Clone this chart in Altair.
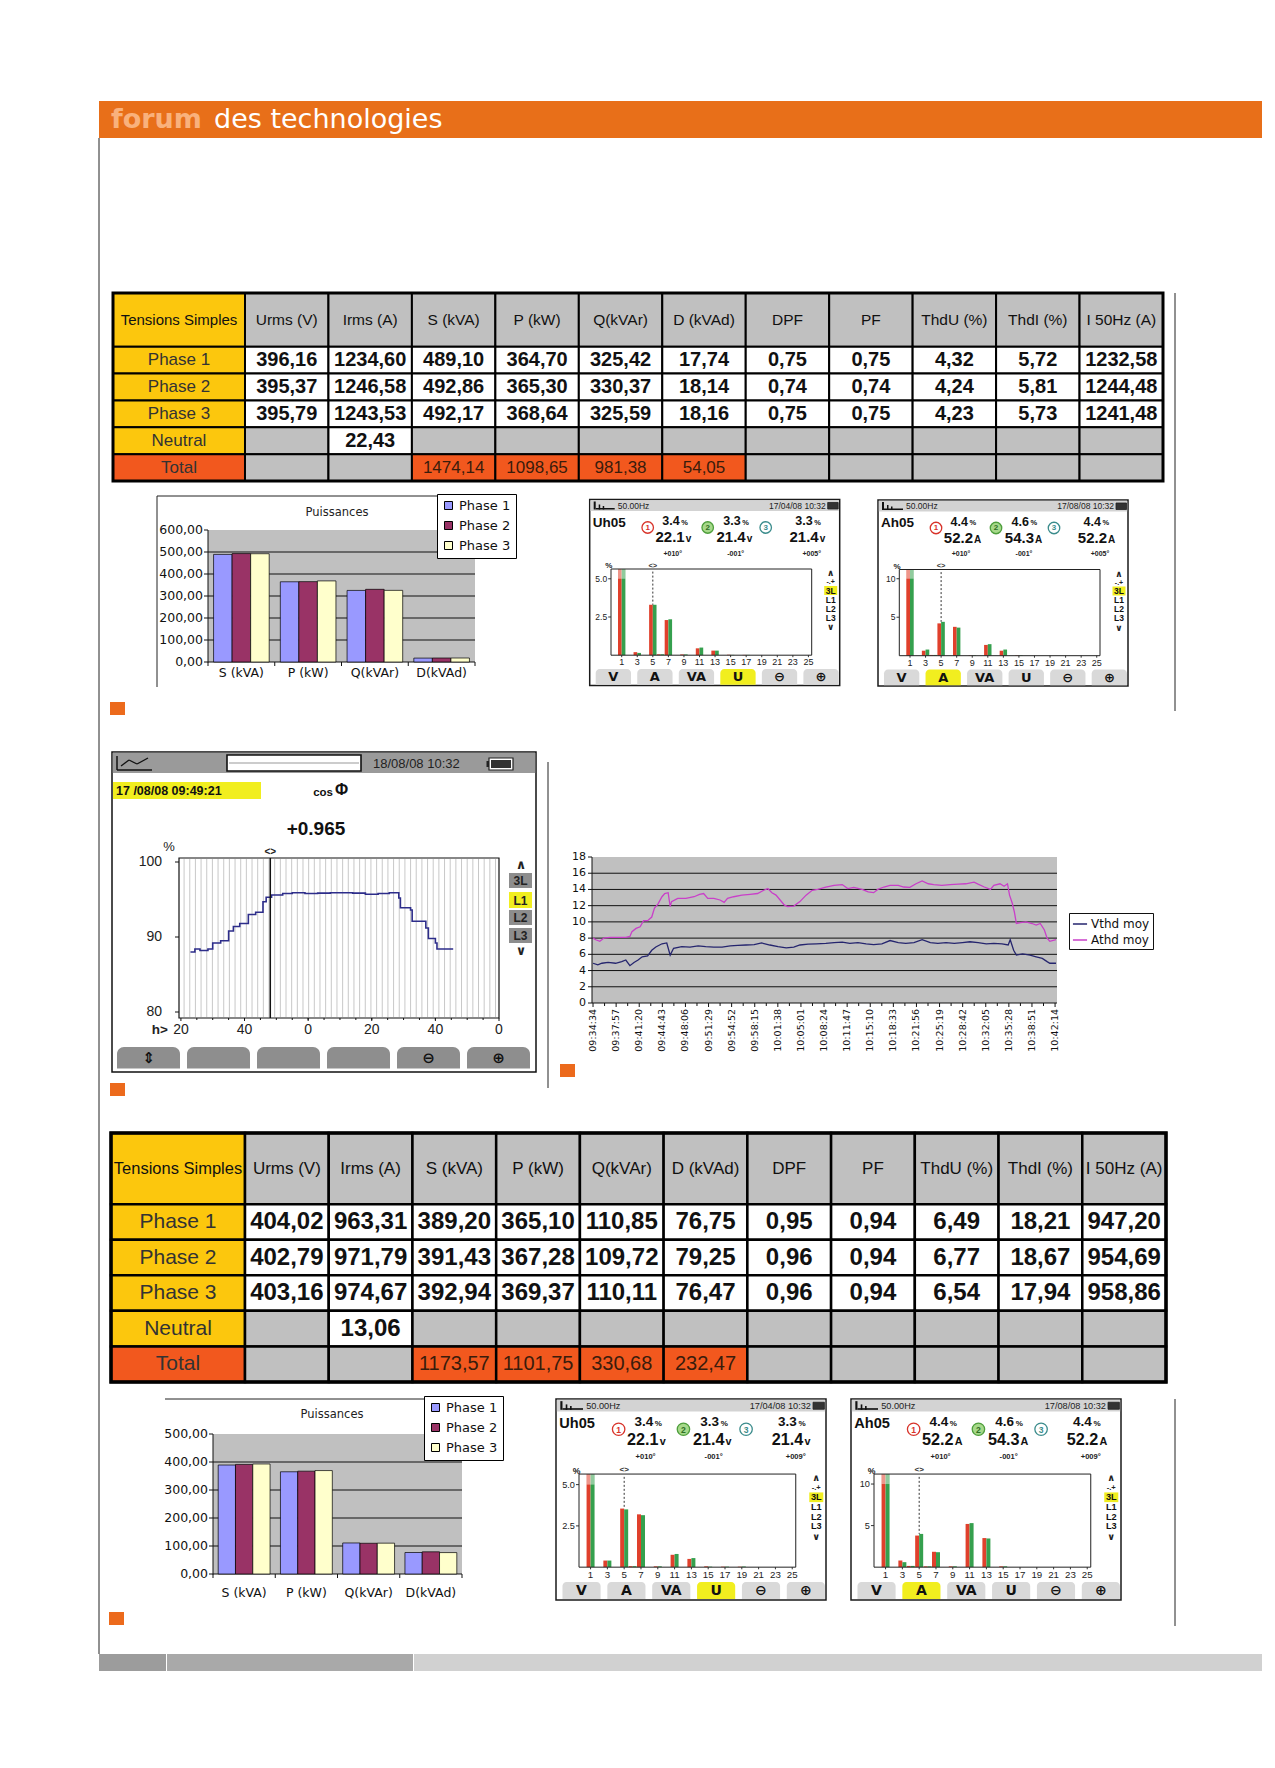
import altair as alt
import pandas as pd
import numpy as np

W, H = 1259, 1752


def X(v):
    return round(v - 8, 2)


def Y(v):
    return round(v - 8, 2)


FN = "Liberation Sans Narrow, Arial Narrow, Liberation Sans, Arial, sans-serif"
FA = "Liberation Sans, Arial, sans-serif"
FD = "DejaVu Sans, Verdana, sans-serif"

# ---------------------------------------------------------------- DATA
HEADER_WORD1 = "forum"
HEADER_WORD2 = "des technologies"

TABLE_CORNER = "Tensions Simples"
TABLE_COLS = ["Urms (V)", "Irms (A)", "S (kVA)", "P (kW)", "Q(kVAr)", "D (kVAd)",
              "DPF", "PF", "ThdU (%)", "ThdI (%)", "I 50Hz (A)"]
TABLE_ROWS = ["Phase 1", "Phase 2", "Phase 3", "Neutral", "Total"]

T1_PHASE1 = [396.16, 1234.60, 489.10, 364.70, 325.42, 17.74, 0.75, 0.75, 4.32, 5.72, 1232.58]
T1_PHASE2 = [395.37, 1246.58, 492.86, 365.30, 330.37, 18.14, 0.74, 0.74, 4.24, 5.81, 1244.48]
T1_PHASE3 = [395.79, 1243.53, 492.17, 368.64, 325.59, 18.16, 0.75, 0.75, 4.23, 5.73, 1241.48]
T1_NEUTRAL_IRMS = 22.43
T1_TOTAL_SPQD = [1474.14, 1098.65, 981.38, 54.05]

T2_PHASE1 = [404.02, 963.31, 389.20, 365.10, 110.85, 76.75, 0.95, 0.94, 6.49, 18.21, 947.20]
T2_PHASE2 = [402.79, 971.79, 391.43, 367.28, 109.72, 79.25, 0.96, 0.94, 6.77, 18.67, 954.69]
T2_PHASE3 = [403.16, 974.67, 392.94, 369.37, 110.11, 76.47, 0.96, 0.94, 6.54, 17.94, 958.86]
T2_NEUTRAL_IRMS = 13.06
T2_TOTAL_SPQD = [1173.57, 1101.75, 330.68, 232.47]

POWER_TITLE = "Puissances"
POWER_CATS = ["S (kVA)", "P (kW)", "Q(kVAr)", "D(kVAd)"]
PHASES = ["Phase 1", "Phase 2", "Phase 3"]

HARMONICS = list(range(1, 26))
HARM_PHASES = ["L1", "L3"]
#            h1   2    3    4    5    6    7    8   9    10  11   12  13   14  15   16  17   18  19   20 21 22 23 24 25
U1_RED   = [100, 0, 0.20, 0, 3.30, 0.06, 2.30, 0, 0.05, 0, 0.45, 0, 0.30, 0, 0.03, 0, 0.02, 0, 0, 0, 0, 0, 0, 0, 0]
U1_GREEN = [100, 0, 0.15, 0, 3.30, 0.06, 2.35, 0, 0.05, 0, 0.50, 0, 0.30, 0, 0.02, 0, 0.02, 0, 0, 0, 0, 0, 0, 0, 0]
A1_RED   = [100, 0, 0.65, 0.10, 4.20, 0, 3.75, 0, 0.05, 0, 1.40, 0, 0.65, 0, 0.05, 0, 0, 0, 0, 0, 0, 0, 0, 0, 0]
A1_GREEN = [100, 0, 0.80, 0.10, 4.40, 0, 3.65, 0, 0.05, 0, 1.50, 0, 0.80, 0, 0.05, 0, 0, 0, 0, 0, 0, 0, 0, 0, 0]
U2_RED   = [100, 0, 0.40, 0, 3.55, 0.06, 3.20, 0, 0.05, 0, 0.75, 0, 0.50, 0, 0.05, 0, 0.03, 0, 0.03, 0, 0, 0, 0, 0, 0]
U2_GREEN = [100, 0, 0.40, 0, 3.50, 0.06, 3.15, 0, 0.05, 0, 0.80, 0, 0.55, 0, 0.03, 0, 0.03, 0, 0.04, 0, 0, 0, 0, 0, 0]
A2_RED   = [100, 0, 0.80, 0.15, 3.80, 0.10, 1.85, 0, 0.10, 0, 5.20, 0, 3.50, 0, 0.10, 0, 0, 0, 0, 0, 0, 0, 0, 0, 0]
A2_GREEN = [100, 0, 0.60, 0.15, 4.00, 0.10, 1.80, 0, 0.10, 0, 5.30, 0, 3.45, 0, 0.10, 0, 0, 0, 0, 0, 0, 0, 0, 0, 0]
HARM_LABELS = list(range(1, 26, 2))

SCREEN_BUTTONS = ["V", "A", "VA", "U", "⊖", "⊕"]
SCREEN_SIDE = ["3L", "L1", "L2", "L3"]
SCREENS = [
    dict(lab="Uh05", date="17/04/08 10:32", pct=["3.4", "3.3", "3.3"], val=["22.1", "21.4", "21.4"],
         unit="v", ang=["+010°", "-001°", "+005°"], active=3, red=U1_RED, green=U1_GREEN,
         ymax=5.64, ticks=[2.5, 5.0], ticklab=["2.5", "5.0"]),
    dict(lab="Ah05", date="17/08/08 10:32", pct=["4.4", "4.6", "4.4"], val=["52.2", "54.3", "52.2"],
         unit="A", ang=["+010°", "-001°", "+005°"], active=1, red=A1_RED, green=A1_GREEN,
         ymax=11.2, ticks=[5, 10], ticklab=["5", "10"]),
    dict(lab="Uh05", date="17/04/08 10:32", pct=["3.4", "3.3", "3.3"], val=["22.1", "21.4", "21.4"],
         unit="v", ang=["+010°", "-001°", "+009°"], active=3, red=U2_RED, green=U2_GREEN,
         ymax=5.64, ticks=[2.5, 5.0], ticklab=["2.5", "5.0"]),
    dict(lab="Ah05", date="17/08/08 10:32", pct=["4.4", "4.6", "4.4"], val=["52.2", "54.3", "52.2"],
         unit="A", ang=["+010°", "-001°", "+009°"], active=1, red=A2_RED, green=A2_GREEN,
         ymax=11.2, ticks=[5, 10], ticklab=["5", "10"]),
]

COS_TOPDATE = "18/08/08 10:32"
COS_CURSOR_LABEL = "17 /08/08 09:49:21"
COS_NAME = ["cos", "Φ"]
COS_VALUE = "+0.965"
COS_CURSOR_T = 48.1          # minutes after 09:00
COS_SIDE = ["3L", "L1", "L2", "L3"]
COS_BUTTONS = ["⇕", "", " ", "  ", "⊖", "⊕"]
COS_XTICKS = [20, 40, 60, 80, 100, 120]
COS_YTICKS = [80, 90, 100]
COS_T = [23.0, 24.4, 26.0, 28.5, 30.0, 32.5, 35.0, 36.5, 38.5, 41.2,
         43.5, 45.8, 46.8, 48.5, 52.0, 55.0, 59.0, 63.0, 67.0, 74.0,
         78.0, 82.0, 85.5, 88.5, 89.0, 92.2, 92.7, 97.0, 97.8, 100.0,
         100.5, 105.6]
COS_V = [88.0, 88.4, 88.2, 88.4, 89.2, 89.5, 90.8, 91.4, 91.8, 93.0,
         93.3, 94.7, 95.3, 95.6, 95.8, 95.9, 95.8, 95.85, 95.9, 95.85,
         95.7, 95.8, 95.9, 95.2, 93.9, 93.6, 92.1, 91.2, 89.8, 89.2,
         88.4, 88.4]

THD_SERIES = ["Vthd moy", "Athd moy"]
# minutes after 09:34:34
ATHD_T = [0.0, 0.4, 1.0, 1.6, 2.5, 3.6, 4.8, 5.4, 5.7, 6.3,
          6.9, 7.4, 8.0, 8.6, 9.0, 9.5, 10.1, 10.5, 11.0, 11.3,
          11.5, 12.4, 13.6, 14.8, 15.6, 16.2, 16.8, 17.7, 18.6, 19.2,
          19.7, 20.6, 21.8, 23.0, 24.1, 25.0, 25.6, 26.2, 26.8, 27.4,
          28.0, 28.5, 29.4, 30.3, 31.2, 32.1, 32.9, 34.1, 35.3, 36.5,
          37.3, 38.2, 39.4, 40.3, 41.1, 41.7, 42.6, 43.5, 44.7, 45.5,
          46.4, 47.3, 48.2, 49.1, 49.9, 51.1, 52.3, 53.5, 54.6, 55.8,
          56.4, 57.3, 58.2, 58.7, 59.6, 60.2, 60.7, 61.0, 61.4, 61.7,
          62.0, 62.6, 63.4, 64.3, 64.9, 65.5, 66.1, 66.5, 66.9, 67.8]
ATHD_V = [8.0, 7.8, 7.6, 8.0, 8.1, 8.1, 8.1, 8.2, 8.8, 9.2,
          9.4, 10.15, 10.15, 10.6, 11.7, 12.2, 13.1, 13.5, 13.6, 11.9,
          12.5, 12.9, 12.9, 13.1, 13.4, 13.5, 12.9, 12.9, 12.7, 12.4,
          12.9, 13.1, 13.3, 13.4, 13.5, 13.9, 14.1, 13.6, 13.3, 12.7,
          12.1, 11.9, 11.95, 12.5, 13.3, 13.9, 14.0, 14.3, 14.5, 14.6,
          14.1, 14.25, 14.0, 13.7, 13.6, 14.0, 14.3, 14.5, 14.5, 14.3,
          14.25, 14.7, 15.05, 14.7, 14.6, 14.5, 14.6, 14.65, 14.7, 14.9,
          14.65, 14.3, 14.0, 14.5, 14.7, 14.4, 14.7, 13.3, 12.3, 11.25,
          9.8, 9.9, 10.0, 9.8, 9.6, 9.8, 9.0, 8.0, 7.6, 7.8]
VTHD_T = [0.0, 0.7, 1.3, 2.2, 3.3, 4.2, 4.8, 5.4, 6.0, 6.6,
          7.2, 8.0, 8.6, 9.2, 10.1, 10.8, 11.3, 11.8, 13.0, 14.2,
          15.4, 16.5, 17.7, 18.9, 20.1, 21.2, 22.4, 23.6, 24.7, 25.9,
          27.1, 28.3, 29.4, 30.3, 31.5, 32.7, 34.1, 35.3, 36.5, 37.6,
          38.8, 40.0, 41.1, 42.3, 43.5, 44.7, 45.8, 47.0, 48.2, 49.4,
          50.5, 51.7, 52.9, 54.1, 55.2, 56.4, 57.6, 58.7, 59.9, 60.8,
          61.1, 61.6, 62.0, 62.9, 64.0, 64.9, 65.8, 66.5, 66.9, 67.8]
VTHD_V = [4.9, 4.7, 4.9, 5.0, 4.9, 5.1, 5.3, 4.6, 5.0, 5.3,
          5.7, 5.8, 6.5, 6.9, 7.3, 7.4, 5.9, 6.75, 6.95, 6.9,
          7.05, 6.95, 6.9, 6.9, 7.05, 7.1, 7.15, 7.2, 7.4, 7.15,
          6.95, 6.8, 6.9, 7.15, 7.25, 7.3, 7.35, 7.45, 7.5, 7.35,
          7.45, 7.3, 7.2, 7.3, 7.7, 7.45, 7.35, 7.45, 7.8, 7.45,
          7.35, 7.45, 7.35, 7.45, 7.55, 7.45, 7.3, 7.35, 7.3, 7.15,
          7.8, 6.5, 5.9, 6.05, 5.9, 5.7, 5.5, 5.1, 4.9, 4.9]
THD_START_S = 9 * 3600 + 34 * 60 + 34   # 09:34:34
THD_TICK_STEP_S = 203                   # seconds between category labels
THD_TICK_COUNT = 21
THD_YTICKS = list(range(0, 19, 2))

# ---------------------------------------------------------------- STYLE
YEL, ORG, GRAY, WHITE = "#fcc70d", "#f2581e", "#c0c0c0", "#ffffff"
BAND = "#e86f19"
HRED, HGREEN = "#e0402c", "#35a04e"
DEV_YEL = "#f1ee1f"

RECTS_U, RECTS_O, RULES, TEXTS, POINTS = [], [], [], [], []


def rect(lst, x1, y1, x2, y2, fill="none", stroke="none", sw=0.0):
    lst.append(dict(x=X(x1), x2=X(x2), y=Y(y1), y2=Y(y2), fill=fill, stroke=stroke, sw=sw))


def rule(x1, y1, x2, y2, color="#111111", sw=1.0):
    RULES.append(dict(x=X(x1), x2=X(x2), y=Y(y1), y2=Y(y2), color=color, sw=sw))


def txt(x, y, s, size, color="#111111", font=FA, weight="normal", align="left", baseline="middle"):
    TEXTS.append(dict(x=X(x), y=Y(y), s=s, size=size, color=color, font=font,
                      weight=weight, align=align, baseline=baseline))


def circ(x, y, d, fill, stroke, sw=1.2):
    POINTS.append(dict(x=X(x), y=Y(y), size=d * d, fill=fill, stroke=stroke, sw=sw))


def fmt(v):
    return f"{v:.2f}".replace(".", ",")


def tick_labels(values, labels, xenc, yenc, font, size, color="#111111", align="center",
                baseline="middle", angle=0, weight="normal"):
    df = pd.DataFrame({"v": values, "lab": labels})
    return alt.Chart(df).mark_text(font=font, fontSize=size, color=color, align=align,
                                   baseline=baseline, angle=angle, fontWeight=weight).encode(
        x=xenc, y=yenc, text="lab:N")


def tick_marks(values, xenc=None, yenc=None, x=None, x2=None, y=None, y2=None, color="#111111", sw=1.0):
    df = pd.DataFrame({"v": values})
    enc = {}
    if xenc is not None:
        enc["x"] = xenc
        enc["y"] = alt.value(y)
        enc["y2"] = alt.value(y2)
    else:
        enc["y"] = yenc
        enc["x"] = alt.value(x)
        enc["x2"] = alt.value(x2)
    return alt.Chart(df).mark_rule(color=color, strokeWidth=sw).encode(**enc)


# ---------------------------------------------------------------- PAGE
rect(RECTS_U, 99, 101, 1262, 138, BAND)
txt(111, 128, HEADER_WORD1, 27, "#f9b17c", FD, "bold", baseline="alphabetic")
txt(214, 128, HEADER_WORD2, 27, "#ffffff", FD, baseline="alphabetic")
rule(99, 138, 99, 1654, "#222222", 1)
rule(1175, 293, 1175, 711, "#222222", 1)
rule(1175, 1399, 1175, 1626, "#222222", 1)
rule(548, 762, 548, 1088, "#222222", 1)
for (a, b) in [(110, 702), (110, 1083), (560, 1064), (109, 1612)]:
    rect(RECTS_U, a, b, a + 15, b + 13, "#ec6a1c")
rect(RECTS_U, 99, 1654, 166, 1671, "#9c9c9c")
rect(RECTS_U, 167, 1654, 413, 1671, "#a9a9a9")
rect(RECTS_U, 414, 1654, 1262, 1671, "#d1d1d1")


# ---------------------------------------------------------------- TABLES
def table_groups(x0, xL, xR, yT, yB, phases, neutral, totals, fs, bw):
    ys = alt.Scale(domain=[0, 7], range=[Y(yT), Y(yB)], nice=False, zero=False)
    xl = alt.Scale(domain=[TABLE_CORNER], range=[X(x0), X(xL)], paddingInner=0, paddingOuter=0)
    xc = alt.Scale(domain=TABLE_COLS, range=[X(xL), X(xR)], paddingInner=0, paddingOuter=0)
    L = [dict(c=TABLE_CORNER, r0=0, r1=2, rm=1, t=TABLE_CORNER, f=YEL, fs=fs["corner"], tc="#111111")]
    for i, r in enumerate(TABLE_ROWS):
        L.append(dict(c=TABLE_CORNER, r0=2 + i, r1=3 + i, rm=2.5 + i, t=r,
                      f=(ORG if r == "Total" else YEL), fs=fs["label"], tc="#333333"))
    C = []
    for c in TABLE_COLS:
        C.append(dict(c=c, r0=0, r1=2, rm=1, t=c, f=GRAY, fs=fs["head"], tc="#111111", b=0))
    for i, r in enumerate(TABLE_ROWS):
        for j, c in enumerate(TABLE_COLS):
            if i < 3:
                t, f, b = fmt(phases[i][j]), WHITE, 1
            elif r == "Neutral":
                t = fmt(neutral) if j == 1 else ""
                f, b = (WHITE if j == 1 else GRAY), 1
            else:
                t = fmt(totals[j - 2]) if 2 <= j <= 5 else ""
                f, b = (ORG if 2 <= j <= 5 else GRAY), 0
            C.append(dict(c=c, r0=2 + i, r1=3 + i, rm=2.5 + i, t=t, f=f,
                          fs=(fs["num"] if b else fs["tot"]),
                          tc=("#111111" if b else "#3a1c0c"), b=b))
    dL, dC = pd.DataFrame(L), pd.DataFrame(C)

    def cells(df, xs):
        return alt.Chart(df).mark_rect(stroke="black", strokeWidth=bw).encode(
            x=alt.X("c:N", scale=xs, axis=None),
            y=alt.Y("r0:Q", scale=ys, axis=None), y2="r1:Q",
            fill=alt.Fill("f:N", scale=None))

    def labels(df, xs, weight):
        df = df[df.t != ""]
        return alt.Chart(df).mark_text(font=FN, fontWeight=weight).encode(
            x=alt.X("c:N", scale=xs, axis=None),
            y=alt.Y("rm:Q", scale=ys, axis=None),
            text="t:N", size=alt.Size("fs:Q", scale=None),
            color=alt.Color("tc:N", scale=None))

    g1 = alt.layer(cells(dL, xl), labels(dL, xl, "normal"))
    g2 = alt.layer(cells(dC, xc), labels(dC[dC.b == 0], xc, "normal"), labels(dC[dC.b == 1], xc, "bold"))
    rect(RECTS_O, x0, yT, xR, yB, "none", "black", bw + 1)
    return [g1, g2]


# ---------------------------------------------------------------- POWER BAR CHARTS
def bar_group(phase_rows, x0, x1, yT, yB, ymax, lx, ly, ylab):
    rect(RECTS_U, x0, yT, x1, yB, "#c0c0c0")
    rule(x0, yT, x0, yB + 0.5, "#111111", 1)
    rule(x0, yB, x1, yB, "#111111", 1)
    for k in range(5):
        xx = x0 + k * (x1 - x0) / 4
        rule(xx, yB, xx, yB + 4, "#111111", 1)
    rows = []
    for p, vals in zip(PHASES, phase_rows):
        for c, v in zip(POWER_CATS, vals[2:6]):
            rows.append(dict(cat=c, ph=p, v=v))
    df = pd.DataFrame(rows)
    xs = alt.Scale(domain=POWER_CATS, range=[X(x0), X(x1)], paddingInner=0, paddingOuter=0)
    ysc = alt.Scale(domain=[0, ymax], range=[Y(yB), Y(yT)], nice=False, zero=True)
    yticks = list(range(0, ymax + 1, 100))
    grid = tick_marks(list(range(100, ymax, 100)), yenc=alt.Y("v:Q", scale=ysc, axis=None),
                      x=X(x0), x2=X(x1), color="#111111", sw=1)
    ticks = tick_marks(yticks, yenc=alt.Y("v:Q", scale=ysc, axis=None), x=X(x0 - 4), x2=X(x0))
    ylabels = tick_labels(yticks, [fmt(v) for v in yticks], alt.value(X(x0 - 5)),
                          alt.Y("v:Q", scale=ysc, axis=None), FD, 12.5, align="right")
    xlabels = tick_labels(POWER_CATS, POWER_CATS, alt.X("v:N", scale=xs, axis=None),
                          alt.value(Y(ylab)), FD, 12.5)
    bars = alt.Chart(df).mark_bar(stroke="black", strokeWidth=0.7).encode(
        x=alt.X("cat:N", scale=xs, sort=POWER_CATS, axis=None),
        xOffset=alt.XOffset("ph:N", scale=alt.Scale(domain=PHASES, paddingInner=0, paddingOuter=0.3)),
        y=alt.Y("v:Q", scale=ysc, axis=None),
        color=alt.Color("ph:N", scale=alt.Scale(domain=PHASES, range=["#9999ff", "#993366", "#ffffcc"]),
                        legend=alt.Legend(orient="none", legendX=X(lx), legendY=Y(ly), title=None,
                                          fillColor="white", strokeColor="black", padding=5,
                                          symbolType="square", symbolSize=64,
                                          symbolStrokeColor="black", symbolStrokeWidth=1,
                                          labelFont=FD, labelFontSize=13, labelColor="#111111",
                                          rowPadding=6, labelOffset=4)))
    return alt.layer(grid, bars, ticks, ylabels, xlabels)


# chart frames and titles
rule(157, 496, 437, 496, "#222222", 1)
rule(157, 496, 157, 687, "#222222", 1)
txt(337, 513, POWER_TITLE, 11.5, "#222222", FD, align="center")
rule(165, 1399, 424, 1399, "#222222", 1)
txt(332, 1415, POWER_TITLE, 11.5, "#222222", FD, align="center")


# ---------------------------------------------------------------- BUTTONS
def buttons_group(labels, active, xa, xb, ya, yb, pad, fill, afill, fs, radius):
    ids = [f"b{i}" for i in range(len(labels))]
    df = pd.DataFrame(dict(id=ids, t=labels, fc=[afill if i == active else fill for i in range(len(labels))]))
    xs = alt.Scale(domain=ids, range=[X(xa), X(xb)], paddingInner=pad, paddingOuter=0)
    r = alt.Chart(df).mark_rect(cornerRadiusTopLeft=radius, cornerRadiusTopRight=radius).encode(
        x=alt.X("id:N", scale=xs, axis=None), y=alt.value(Y(ya)), y2=alt.value(Y(yb)),
        fill=alt.Fill("fc:N", scale=None))
    t = alt.Chart(df[df.t.str.strip() != ""]).mark_text(font=FD, fontWeight="bold", fontSize=fs,
                                                        color="#111111").encode(
        x=alt.X("id:N", scale=xs, axis=None), y=alt.value(Y((ya + yb) / 2 + 0.5)), text="t:N")
    return alt.layer(r, t)


# ---------------------------------------------------------------- HARMONIC SCREENS
def hscreen(cfg, x0, y0, s):
    R = lambda r: x0 + r * s
    Q = lambda r: y0 + r * s
    rect(RECTS_U, R(0), Q(0), R(250), Q(186), "#ffffff", "#1a1a1a", 1.5)
    rect(RECTS_U, R(0.8), Q(0.8), R(249.2), Q(11.5), "#d3d3d3")
    rect(RECTS_U, R(4), Q(2), R(6), Q(10), "#111111")
    rect(RECTS_U, R(6), Q(8.5), R(25), Q(10), "#111111")
    rect(RECTS_U, R(9), Q(5), R(10.5), Q(10), "#111111")
    rect(RECTS_U, R(13), Q(6.5), R(14.5), Q(10), "#111111")
    txt(R(28), Q(6.3), "50.00Hz", 8.5 * s, "#222222", FA)
    txt(R(236), Q(6.3), cfg["date"], 8.5 * s, "#222222", FA, align="right")
    rect(RECTS_U, R(238), Q(3), R(248.5), Q(9.5), "#333333", "#222222", 0.8)
    txt(R(3), Q(23), cfg["lab"], 13.5 * s, "#111111", FA, "bold")
    circle_cols = [("#ffffff", "#d8332a"), ("#a6d98a", "#4e9e3c"), ("#ffffff", "#3b8c8c")]
    for k, cx in enumerate([58, 118, 176]):
        fill, stroke = circle_cols[k]
        circ(R(cx), Q(28), 11.5 * s, fill, stroke, 1.3)
        txt(R(cx), Q(28.3), str(k + 1), 8 * s, stroke if k != 1 else "#2f6e25", FA, "bold", "center")
    for k, (pr, vr, ac) in enumerate(zip([90, 151, 223], [95, 156, 229], [83, 146, 222])):
        txt(R(pr), Q(21.5), cfg["pct"][k], 12.5 * s, "#111111", FA, "bold", "right")
        txt(R(pr + 1.5), Q(23), "%", 7.5 * s, "#111111", FA, "bold")
        txt(R(vr), Q(37.5), cfg["val"][k], 15 * s, "#111111", FA, "bold", "right")
        txt(R(vr + 1), Q(39.5), cfg["unit"], 10 * s, "#111111", FA, "bold")
        txt(R(ac), Q(54), cfg["ang"][k], 7 * s, "#222222", FA, "bold", "center")
    txt(R(19), Q(66.5), "%", 8 * s, "#222222", FA, "bold", align="center")
    rect(RECTS_O, R(21.3), Q(69.5), R(222), Q(155.7), "none", "#222222", 1)
    # side indicator
    txt(R(241), Q(73.5), "∧", 9 * s, "#222222", FD, "bold", "center")
    txt(R(241), Q(82.5), "-.+", 7 * s, "#222222", FA, "bold", "center")
    rect(RECTS_U, R(234.5), Q(86.5), R(247.5), Q(95.5), DEV_YEL)
    for lab, yy in zip(SCREEN_SIDE, [91, 100, 109, 118]):
        txt(R(241), Q(yy), lab, 8.5 * s, "#111111", FA, "bold", "center")
    txt(R(241), Q(127.5), "∨", 9 * s, "#222222", FD, "bold", "center")

    step = 7.78 * s
    c1 = R(32)
    xs = alt.Scale(domain=list(range(0, 26)), range=[X(c1 - 1.5 * step), X(c1 + 24.5 * step)],
                   paddingInner=0, paddingOuter=0)
    yb, yt = Q(155.7), Q(69.5)
    ysc = alt.Scale(domain=[0, cfg["ymax"]], range=[Y(yb), Y(yt)], nice=False, zero=True, clamp=True)
    rows = []
    for ph, vals in zip(HARM_PHASES, [cfg["red"], cfg["green"]]):
        for h, v in zip(HARMONICS, vals):
            rows.append(dict(h=h, ph=ph, v=v))
    df = pd.DataFrame(rows)
    bars = alt.Chart(df).mark_bar().encode(
        x=alt.X("h:O", scale=xs, axis=None),
        xOffset=alt.XOffset("ph:N", scale=alt.Scale(domain=HARM_PHASES, paddingInner=0, paddingOuter=0.05)),
        y=alt.Y("v:Q", scale=ysc, axis=None),
        color=alt.Color("ph:N", scale=alt.Scale(domain=HARM_PHASES, range=[HRED, HGREEN]), legend=None))
    over = alt.Chart(pd.DataFrame([dict(h=1, lo=cfg["ticks"][-1], hi=cfg["ymax"])])).mark_bar(
        color="white", opacity=0.45).encode(
        x=alt.X("h:O", scale=xs, axis=None), y=alt.Y("lo:Q", scale=ysc, axis=None), y2="hi:Q")
    cur = pd.DataFrame([dict(h=5, top=cfg["ymax"] * 0.97, bot=max(cfg["red"][4], cfg["green"][4]))])
    cline = alt.Chart(cur).mark_rule(color="#333333", strokeDash=[2, 2], strokeWidth=1).encode(
        x=alt.X("h:O", scale=xs, axis=None), y=alt.Y("top:Q", scale=ysc, axis=None), y2="bot:Q")
    cmark = alt.Chart(cur).mark_text(text="<>", font=FA, fontWeight="bold", fontSize=7.5 * s,
                                     color="#333333").encode(
        x=alt.X("h:O", scale=xs, axis=None), y=alt.value(Y(Q(66))))
    xl = tick_labels(HARM_LABELS, [str(h) for h in HARM_LABELS], alt.X("v:O", scale=xs, axis=None),
                     alt.value(Y(Q(162.5))), FA, 9 * s, "#222222")
    xt = tick_marks(HARM_LABELS, xenc=alt.X("v:O", scale=xs, axis=None), y=Y(Q(155.7)), y2=Y(Q(157.7)),
                    color="#333333")
    yl = tick_labels(cfg["ticks"], cfg["ticklab"], alt.value(X(R(17.5))),
                     alt.Y("v:Q", scale=ysc, axis=None), FA, 8.5 * s, "#222222", align="right")
    yt_ = tick_marks(cfg["ticks"], yenc=alt.Y("v:Q", scale=ysc, axis=None), x=X(R(18.5)), x2=X(R(21.3)),
                     color="#333333")
    g = alt.layer(bars, over, cline, cmark, xl, xt, yl, yt_)
    b = buttons_group(SCREEN_BUTTONS, cfg["active"], R(6), R(249), Q(169.5), Q(185.2), 0.15,
                      "#d9d9d9", DEV_YEL, 13 * s, 4)
    return [g, b]


# ---------------------------------------------------------------- COS PHI SCREEN
def cos_screen():
    rect(RECTS_U, 112, 752, 536, 1072, "#ffffff", "#111111", 1.5)
    rect(RECTS_U, 112.8, 752.8, 535.2, 773, "#9a9a9a")
    rule(117, 756, 117, 770, "#111111", 1.5)
    rule(117, 770, 152, 770, "#111111", 1.5)
    rule(121, 766, 129, 760, "#111111", 1.3)
    rule(129, 760, 137, 764, "#111111", 1.3)
    rule(137, 764, 148, 758, "#111111", 1.3)
    rect(RECTS_U, 227, 755, 361, 771, "#ffffff", "#111111", 1.6)
    rule(229, 763, 359, 763, "#999999", 1)
    txt(373, 764, COS_TOPDATE, 13, "#222222", FA)
    rect(RECTS_U, 489, 758, 513, 770, "#ffffff", "#222222", 1.2)
    rect(RECTS_U, 491, 760, 511, 768, "#333333")
    rect(RECTS_U, 486.5, 761, 489, 767, "#222222")
    rect(RECTS_U, 113, 782, 261, 799, DEV_YEL)
    txt(116, 791, COS_CURSOR_LABEL, 12.5, "#111111", FA, "bold")
    txt(333, 793, COS_NAME[0], 11.5, "#111111", FA, "bold", "right")
    txt(335, 790, COS_NAME[1], 16, "#111111", FA, "bold")
    txt(316, 829, COS_VALUE, 19, "#111111", FA, "bold", "center")
    txt(169, 847, "%", 13, "#222222", FA, align="center")
    txt(168, 1030, "h>", 13.5, "#222222", FA, "bold", "right")
    rect(RECTS_O, 179, 858, 499, 1018, "none", "#111111", 1.2)
    txt(521, 865, "∧", 13, "#222222", FD, "bold", "center")
    for lab, (a, b) in zip(COS_SIDE, [(873, 888), (892, 908), (910, 925), (928, 943)]):
        rect(RECTS_U, 509, a, 532, b, DEV_YEL if lab == "L1" else "#8d8d8d")
        txt(520.5, (a + b) / 2 + 0.5, lab, 12, "#222222", FA, "bold", "center")
    txt(521, 951, "∨", 13, "#222222", FD, "bold", "center")

    xs = alt.Scale(domain=[19.4, 120], range=[X(179), X(499)], nice=False, zero=False)
    ysc = alt.Scale(domain=[80, 100], range=[Y(1012), Y(862)], nice=False, zero=False)
    grid = tick_marks(list(np.arange(21.0, 119.5, 1.78)), xenc=alt.X("v:Q", scale=xs, axis=None),
                      y=Y(859), y2=Y(1017), color="#c2c2c2", sw=0.9)
    line = alt.Chart(pd.DataFrame(dict(t=COS_T, v=COS_V))).mark_line(
        interpolate="step-after", color="#2d2d8a", strokeWidth=1.6).encode(
        x=alt.X("t:Q", scale=xs, axis=None), y=alt.Y("v:Q", scale=ysc, axis=None))
    cdf = pd.DataFrame({"t": [COS_CURSOR_T]})
    cursor = alt.Chart(cdf).mark_rule(color="#111111", strokeWidth=1.5).encode(
        x=alt.X("t:Q", scale=xs, axis=None), y=alt.value(Y(858)), y2=alt.value(Y(1018)))
    cmark = alt.Chart(cdf).mark_text(text="<>", font=FA, fontWeight="bold", fontSize=10,
                                     color="#222222").encode(
        x=alt.X("t:Q", scale=xs, axis=None), y=alt.value(Y(852)))
    xl = tick_labels(COS_XTICKS, [str(v % 60) for v in COS_XTICKS], alt.X("v:Q", scale=xs, axis=None),
                     alt.value(Y(1030)), FA, 14, "#222222")
    xt = tick_marks(COS_XTICKS, xenc=alt.X("v:Q", scale=xs, axis=None), y=Y(1018), y2=Y(1021))
    minor = tick_marks(list(range(25, 120, 5)), xenc=alt.X("v:Q", scale=xs, axis=None), y=Y(1018), y2=Y(1020))
    yl = tick_labels(COS_YTICKS, [str(v) for v in COS_YTICKS], alt.value(X(162)),
                     alt.Y("v:Q", scale=ysc, axis=None), FA, 14, "#222222", align="right")
    yt_ = tick_marks(COS_YTICKS, yenc=alt.Y("v:Q", scale=ysc, axis=None), x=X(175), x2=X(179))
    g = alt.layer(grid, line, cursor, cmark, xl, xt, minor, yl, yt_)
    b = buttons_group(COS_BUTTONS, -1, 117, 530, 1047, 1068.5, 0.1, "#8e8e8e", "#8e8e8e", 15, 7)
    return [g, b]


# ---------------------------------------------------------------- THD LINE CHART
def thd_chart():
    x0, x1, yT, yB = 592, 1057, 857, 1003
    rect(RECTS_U, x0, yT, x1, yB, "#c0c0c0")
    rule(x0, yT, x0, yB, "#111111", 1)
    rule(x0, yB, x1, yB, "#111111", 1)
    xs = alt.Scale(domain=[-0.15, 67.95], range=[X(x0), X(x1)], nice=False, zero=False)
    ysc = alt.Scale(domain=[0, 18], range=[Y(yB), Y(yT)], nice=False, zero=True)
    grid = tick_marks(list(range(2, 18, 2)), yenc=alt.Y("v:Q", scale=ysc, axis=None),
                      x=X(x0), x2=X(x1), color="#111111", sw=1)
    rows = [dict(series=THD_SERIES[0], t=t, v=v) for t, v in zip(VTHD_T, VTHD_V)]
    rows += [dict(series=THD_SERIES[1], t=t, v=v) for t, v in zip(ATHD_T, ATHD_V)]
    tick_t = [k * THD_TICK_STEP_S / 60.0 for k in range(THD_TICK_COUNT)]
    tick_s = []
    for k in range(THD_TICK_COUNT):
        sec = THD_START_S + k * THD_TICK_STEP_S
        tick_s.append(f"{sec // 3600:02d}:{(sec % 3600) // 60:02d}:{sec % 60:02d}")
    lines = alt.Chart(pd.DataFrame(rows)).mark_line(strokeWidth=1.3).encode(
        x=alt.X("t:Q", scale=xs, axis=None),
        y=alt.Y("v:Q", scale=ysc, axis=None),
        color=alt.Color("series:N", scale=alt.Scale(domain=THD_SERIES, range=["#25256e", "#c93fc9"]),
                        legend=alt.Legend(orient="none", legendX=X(1069), legendY=Y(913), title=None,
                                          fillColor="white", strokeColor="#111111", padding=3,
                                          symbolType="stroke", symbolSize=200, symbolStrokeWidth=1.5,
                                          labelFont=FD, labelFontSize=12, labelColor="#111111",
                                          rowPadding=2, labelOffset=3)))
    xl = tick_labels(tick_t, tick_s, alt.X("v:Q", scale=xs, axis=None), alt.value(Y(yB + 6)),
                     FD, 9.5, align="right", angle=270)
    xt = tick_marks(tick_t, xenc=alt.X("v:Q", scale=xs, axis=None), y=Y(yB), y2=Y(yB + 4))
    minor = tick_marks([t + THD_TICK_STEP_S / 120.0 for t in tick_t[:-1]],
                       xenc=alt.X("v:Q", scale=xs, axis=None), y=Y(yB), y2=Y(yB + 3))
    yl = tick_labels(THD_YTICKS, [str(v) for v in THD_YTICKS], alt.value(X(x0 - 6)),
                     alt.Y("v:Q", scale=ysc, axis=None), FD, 11, align="right")
    yt_ = tick_marks(THD_YTICKS, yenc=alt.Y("v:Q", scale=ysc, axis=None), x=X(x0 - 4), x2=X(x0))
    return alt.layer(grid, lines, xl, xt, minor, yl, yt_)


# ---------------------------------------------------------------- ASSEMBLE
groups = []
groups += table_groups(113, 245, 1163, 293, 481, [T1_PHASE1, T1_PHASE2, T1_PHASE3],
                       T1_NEUTRAL_IRMS, T1_TOTAL_SPQD,
                       dict(corner=15, head=15.5, label=17, num=20, tot=17), 2)
groups += table_groups(111, 245, 1166, 1133, 1382, [T2_PHASE1, T2_PHASE2, T2_PHASE3],
                       T2_NEUTRAL_IRMS, T2_TOTAL_SPQD,
                       dict(corner=16.5, head=17, label=21, num=24, tot=20), 2.5)
groups.append(bar_group([T1_PHASE1, T1_PHASE2, T1_PHASE3], 208, 475, 530, 662, 600, 437, 494, 673))
groups.append(bar_group([T2_PHASE1, T2_PHASE2, T2_PHASE3], 213, 462, 1434, 1574, 500, 424, 1396, 1593))
for cfg, (x0, y0, s) in zip(SCREENS, [(589.7, 499.5, 1.0), (878, 500, 1.0), (556, 1399, 1.08), (851, 1399, 1.08)]):
    groups += hscreen(cfg, x0, y0, s)
groups += cos_screen()
groups.append(thd_chart())


def rect_layer(lst):
    return alt.Chart(pd.DataFrame(lst)).mark_rect().encode(
        x=alt.X("x:Q", scale=None, axis=None), x2="x2:Q",
        y=alt.Y("y:Q", scale=None, axis=None), y2="y2:Q",
        fill=alt.Fill("fill:N", scale=None), stroke=alt.Stroke("stroke:N", scale=None),
        strokeWidth=alt.StrokeWidth("sw:Q", scale=None))


rules_layer = alt.Chart(pd.DataFrame(RULES)).mark_rule().encode(
    x=alt.X("x:Q", scale=None, axis=None), x2="x2:Q",
    y=alt.Y("y:Q", scale=None, axis=None), y2="y2:Q",
    color=alt.Color("color:N", scale=None), strokeWidth=alt.StrokeWidth("sw:Q", scale=None))

points_layer = alt.Chart(pd.DataFrame(POINTS)).mark_point(shape="circle", filled=True, opacity=1).encode(
    x=alt.X("x:Q", scale=None, axis=None), y=alt.Y("y:Q", scale=None, axis=None),
    size=alt.Size("size:Q", scale=None), fill=alt.Fill("fill:N", scale=None),
    stroke=alt.Stroke("stroke:N", scale=None), strokeWidth=alt.StrokeWidth("sw:Q", scale=None))

text_layers = []
tdf = pd.DataFrame(TEXTS)
for (font, weight, align, baseline), g in tdf.groupby(["font", "weight", "align", "baseline"], sort=False):
    text_layers.append(
        alt.Chart(g.drop(columns=["font", "weight", "align", "baseline"])).mark_text(
            font=font, fontWeight=weight, align=align, baseline=baseline).encode(
            x=alt.X("x:Q", scale=None, axis=None), y=alt.Y("y:Q", scale=None, axis=None),
            text="s:N", size=alt.Size("size:Q", scale=None), color=alt.Color("color:N", scale=None)))

chart = alt.layer(
    rect_layer(RECTS_U), rules_layer, *groups, points_layer, rect_layer(RECTS_O), *text_layers
).resolve_scale(
    x="independent", y="independent", color="independent", xOffset="independent"
).properties(
    width=W, height=H, padding=0, background="white",
    autosize=alt.AutoSizeParams(type="none")
).configure_view(stroke=None)

chart.save("out.html", embed_options={"renderer": "svg", "actions": False})
